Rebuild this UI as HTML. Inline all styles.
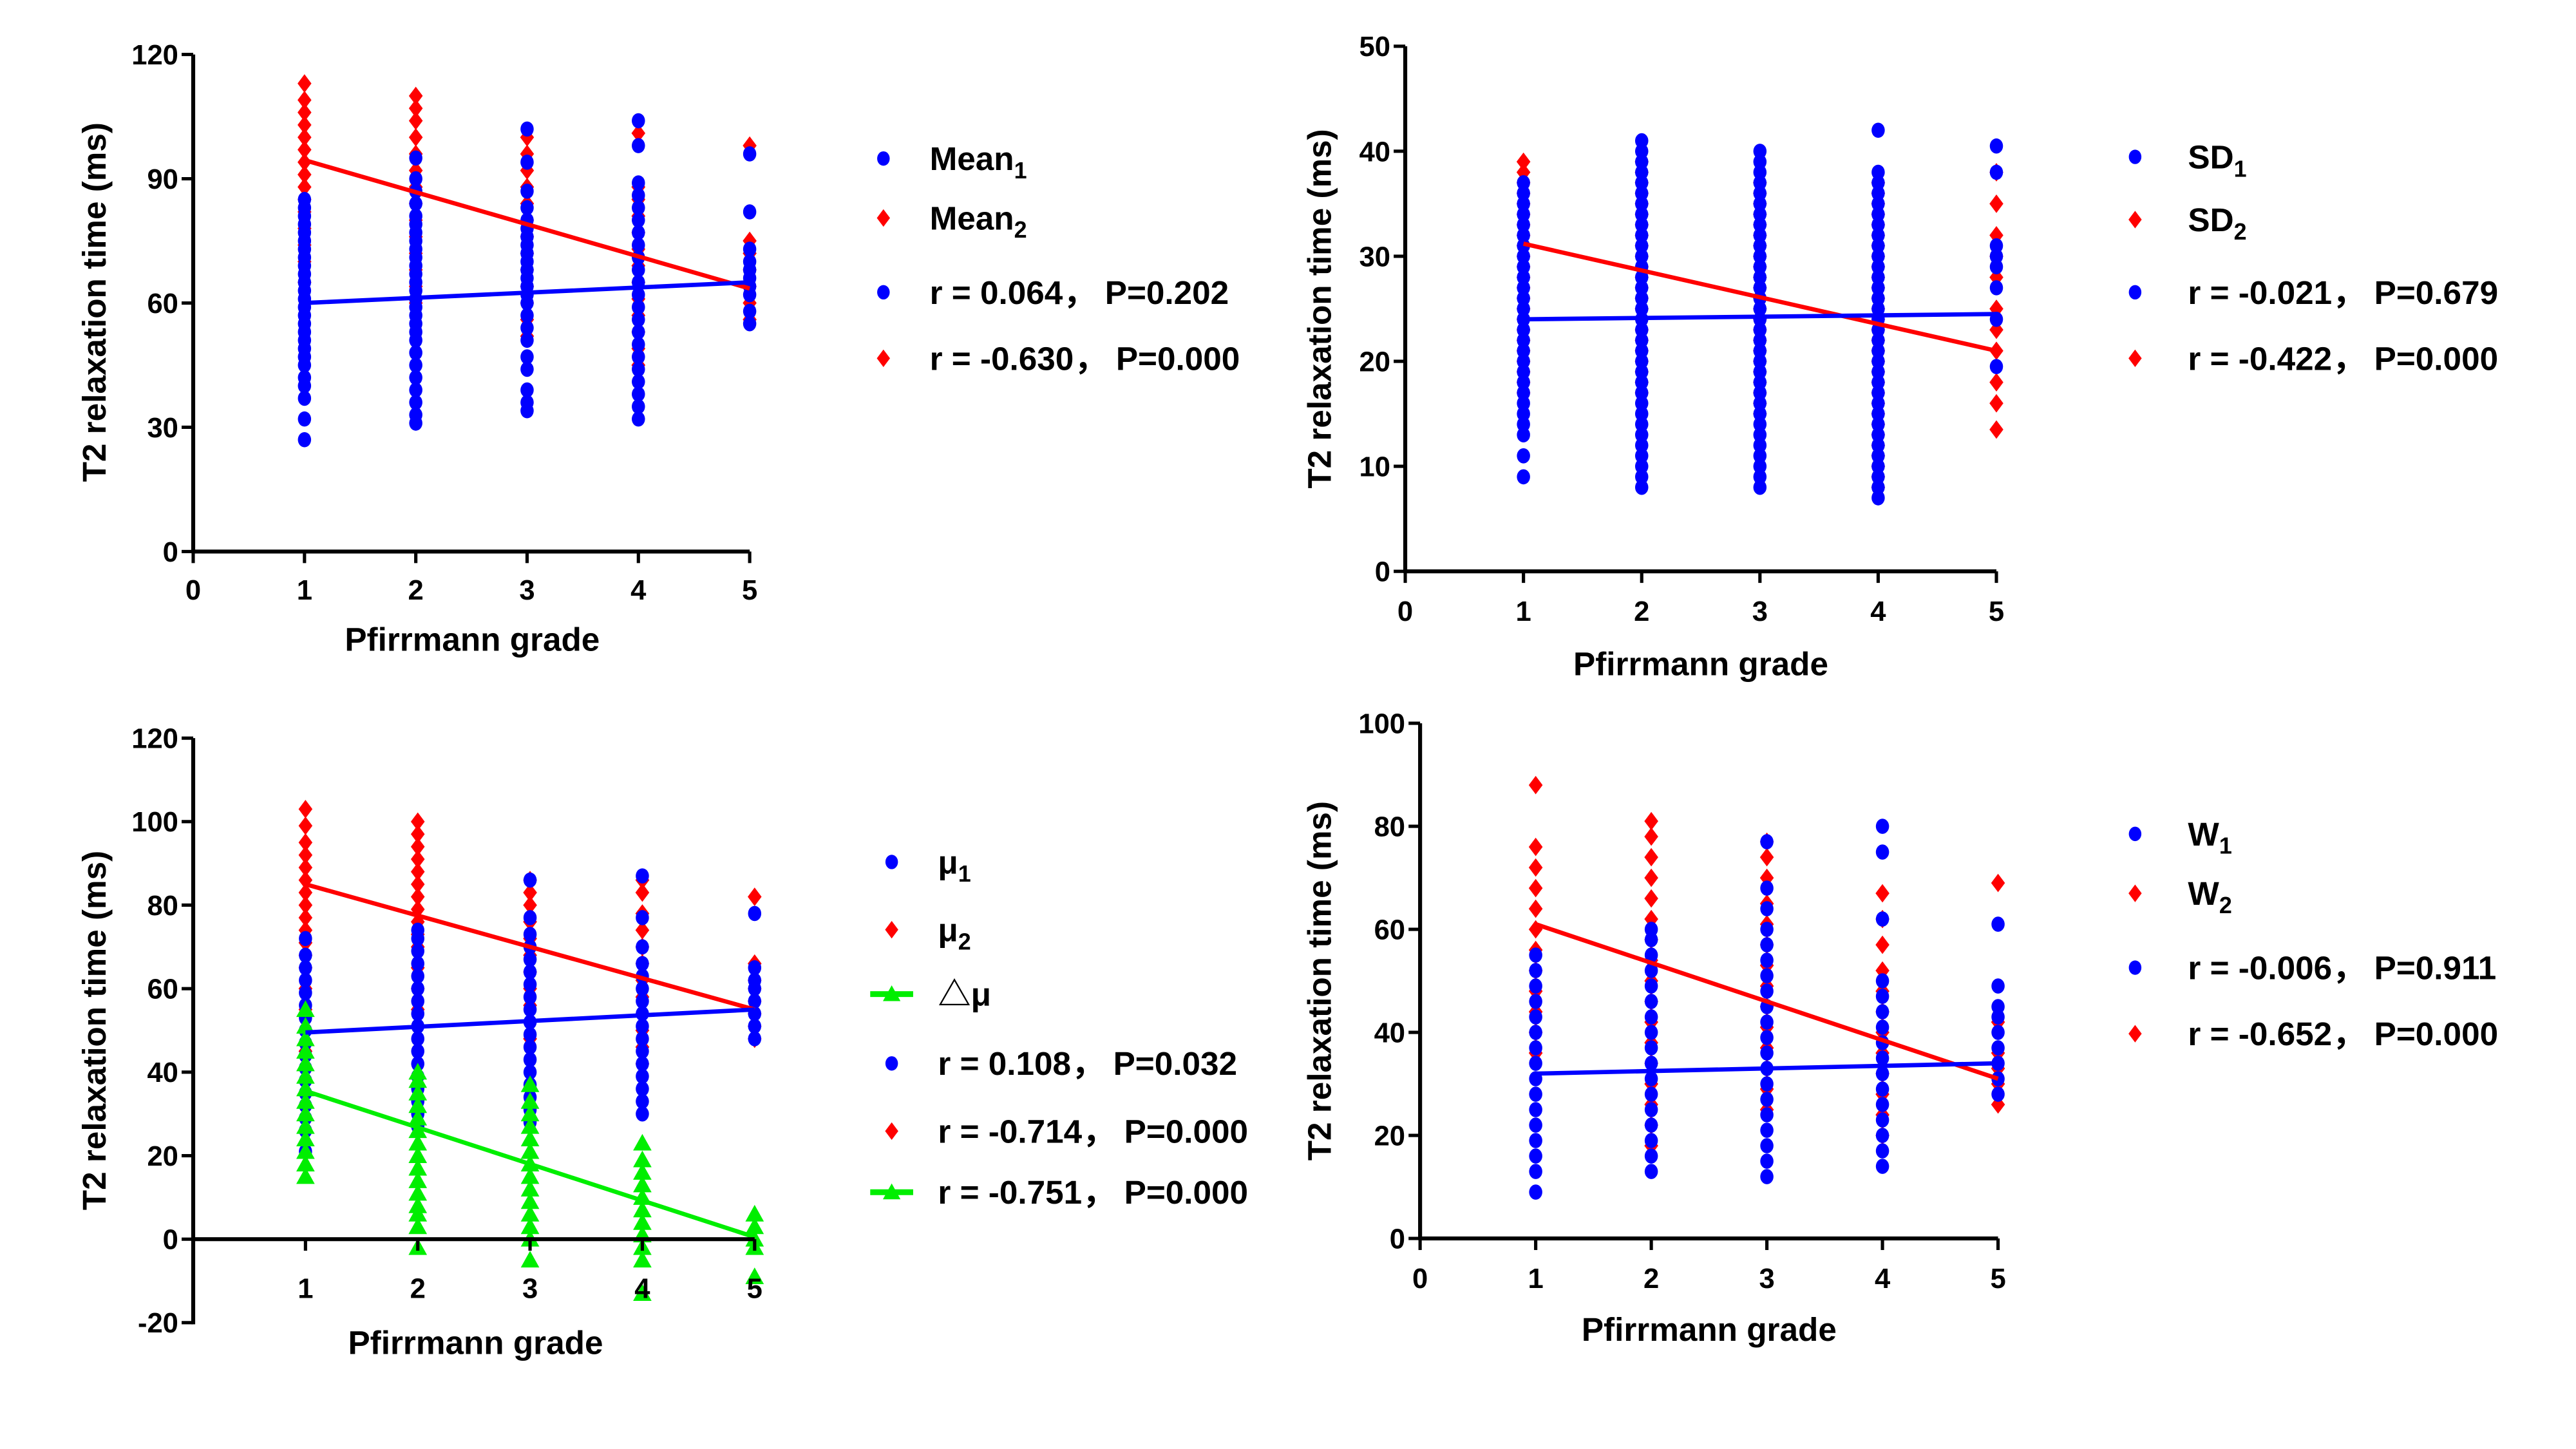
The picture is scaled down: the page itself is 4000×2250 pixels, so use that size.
<!DOCTYPE html>
<html><head><meta charset="utf-8"><style>
html,body{margin:0;padding:0;background:#fff}
svg{display:block}
text{font-family:"Liberation Sans","Noto Sans CJK SC",sans-serif;font-weight:bold;fill:#000}
</style></head><body>
<svg id="fig" width="4000" height="2250" viewBox="0 0 1560 877.5" xmlns="http://www.w3.org/2000/svg"></svg>
<script>
// ---- Data (values per Pfirrmann grade 1..5) ----
const grades=[1,2,3,4,5];
// Panel A: Mean
const mean1=[[27,32,37,40,42,45,47,49,51,53,55,57,59,61,63,65,67,69,71,73,75,77,79,81,83,85],
[31,33,36,39,42,45,48,51,53,55,57,59,61,63,65,67,69,71,73,75,77,79,81,84,87,90,95],
[34,36,39,44,47,51,54,57,60,62,64,66,68,70,72,74,76,78,80,83,87,94,102],
[32,35,38,41,44,47,50,53,56,59,62,65,68,71,74,77,80,83,86,89,98,104],
[55,58,62,64,66,68,70,73,82,96]];
const mean2=[[65,70,74,78,82,85,88,91,94,97,100,103,106,109,113],
[60,64,68,72,76,80,84,88,92,96,100,104,107,110],
[52,56,60,64,68,72,76,80,84,88,92,96,100],
[45,49,53,57,61,65,69,73,77,81,85,88,101],
[56,60,64,68,72,75,98]];
const fitMean1=[60,65], fitMean2=[94.5,63.5];
// Panel B: SD
const sd1=[[9,11,13,14,15,16,17,18,19,20,21,22,23,24,25,26,27,28,29,30,31,32,33,34,35,36,37],
[8,9,10,11,12,13,14,15,16,17,18,19,20,21,22,23,24,25,26,27,28,29,30,31,32,33,34,35,36,37,38,39,40,41],
[8,9,10,11,12,13,14,15,16,17,18,19,20,21,22,23,24,25,26,27,28,29,30,31,32,33,34,35,36,37,38,39,40],
[7,8,9,10,11,12,13,14,15,16,17,18,19,20,21,22,23,24,25,26,27,28,29,30,31,32,33,34,35,36,37,38,42],
[19.5,24,27,29,30,31,38,40.5]];
const sd2=[[17,18,19,20,21,22,23,24,25,26,27,28,29,30,31,32,33,34,35,36,37,38,39],
[17,18,19,20,21,22,23,24,25,26,27,28,29,30,31,32,33,34,35,36,37,38,39],
[15,16,17,18,19,20,21,22,23,24,25,26,27,28,29,30,31,32,33,34,35,36,37],
[8,9,10,11,12,13,14,15,16,17,18,19,20,21,22,23,24,25,26,27,28,29,30,31,32,33,34,35,36,37],
[13.5,16,18,21,23,25,28,30,32,35,38]];
const fitSd1=[24,24.5], fitSd2=[31.2,21];
// Panel C: mu
const mu1=[[21,26,29,32,35,38,41,44,47,50,53,56,59,62,65,68,72],
[27,30,33,36,39,42,45,48,51,54,57,60,63,66,69,72,74],
[28,31,34,37,40,43,46,49,52,55,58,61,64,67,70,73,77,86],
[30,33,36,39,42,45,48,51,54,57,60,63,66,70,77,87],
[48,51,54,57,60,62,65,78]];
const mu2=[[45,50,55,60,65,68,71,74,77,80,83,86,89,92,95,99,103],
[55,60,65,70,73,76,79,82,85,88,91,94,97,100],
[48,52,56,60,64,68,72,76,80,83,86],
[42,46,50,54,58,62,66,70,74,78,83,86],
[48,51,54,57,60,62,66,82]];
const dmu=[[15,18,21,24,27,30,33,36,39,42,45,48,51,55],
[-2,3,6,8,11,14,17,20,23,26,29,32,35,38,40],
[-5,0,3,6,9,12,15,18,21,24,27,30,33,37],
[-13,-5,-2,1,4,7,10,13,16,19,23],
[-9,-2,0,3,6]];
const fitMu1=[49.5,55], fitMu2=[85,55], fitDmu=[35.5,0.5];
// Panel D: W
const w1=[[9,13,16,19,22,25,28,31,34,37,40,43,46,49,52,55],
[13,16,19,22,25,28,31,34,37,40,43,46,49,52,55,58,60],
[12,15,18,21,24,27,30,33,36,39,42,45,48,51,54,57,60,64,68,77],
[14,17,20,23,26,29,32,35,38,41,44,47,50,62,75,80],
[28,31,34,37,40,43,45,49,61]];
const w2=[[36,40,44,48,52,56,60,64,68,72,76,88],
[18,22,26,30,34,38,42,46,50,54,58,62,66,70,74,78,81],
[25,29,33,37,41,45,49,53,57,61,65,70,74,77],
[20,24,28,32,36,40,44,48,52,57,62,67],
[26,30,33,36,42,69]];
const fitW1=[32,34], fitW2=[61,31];
const ticksA=[0,30,60,90,120], ticksB=[0,10,20,30,40,50], ticksC=[-20,0,20,40,60,80,100,120], ticksD=[0,20,40,60,80,100];

const NS="http://www.w3.org/2000/svg";
const svg=document.getElementById('fig');
function mk(tag,attrs,parent){const e=document.createElementNS(NS,tag);for(const k in attrs)e.setAttribute(k,attrs[k]);(parent||svg).appendChild(e);return e;}
const BLUE="#0000ff",RED="#ff0000",GREEN="#00ee00";
function marker(g,shape,cx,cy,col,s){
  let e;
  if(shape==='circle'){e=mk('ellipse',{cx:cx,cy:cy,rx:4*s,ry:4.6*s,fill:col},g);}
  else if(shape==='diamond'){const r=5.6*s,w=4.2*s;e=mk('polygon',{points:`${cx},${cy-r} ${cx+w},${cy} ${cx},${cy+r} ${cx-w},${cy}`,fill:col},g);}
  else {const r=5.6*s;e=mk('polygon',{points:`${cx},${cy-r} ${cx+r},${cy+r*0.8} ${cx-r},${cy+r*0.8}`,fill:col},g);}
  return e;
}
function panel(p){
  const g=mk('g',{});
  
  
  const X=v=>p.x0+(v)*(p.x5-p.x0)/5;
  const Y=v=>p.yb+(v-p.ymin)*(p.yt-p.yb)/(p.ymax-p.ymin);
  p.series.forEach(s=>{
    s.data.forEach((vals,i)=>{vals.forEach(v=>{
      const m=marker(g,s.shape,X(grades[i]),Y(v),s.col,1);
      
      
    });});
  });
  p.series.forEach(s=>{
    const l=mk('line',{x1:X(1),y1:Y(s.fit[0]),x2:X(5),y2:Y(s.fit[1]),stroke:s.col,'stroke-width':2.6},g);
    
    
  });
  const ya=mk('line',{x1:p.ax,y1:Y(p.ymax),x2:p.ax,y2:Y(p.ymin)+1,stroke:'#000','stroke-width':2.4},g);
  
  
  const xaY=Y(p.xaxisAt);
  const xa=mk('line',{x1:p.ax-1,y1:xaY,x2:X(5),y2:xaY,stroke:'#000','stroke-width':2.4},g);
  
  
  p.yticks.forEach(t=>{
    mk('line',{x1:p.ax-7,y1:Y(t),x2:p.ax,y2:Y(t),stroke:'#000','stroke-width':2},g);
    const tx=mk('text',{x:p.ax-9,y:Y(t)+6,'text-anchor':'end','font-size':17},g);tx.textContent=t;
    
    
  });
  p.xticks.forEach(t=>{
    mk('line',{x1:X(t),y1:xaY,x2:X(t),y2:xaY+7,stroke:'#000','stroke-width':2},g);
    const tx=mk('text',{x:X(t),y:p.xlabY,'text-anchor':'middle','font-size':17},g);tx.textContent=t;
    
    
  });
  const xt=mk('text',{x:p.xtX,y:p.xtY,'text-anchor':'middle','font-size':20},g);xt.textContent='Pfirrmann grade';
  
  
  const yt=mk('text',{x:0,y:0,'text-anchor':'middle','font-size':20,transform:`translate(${p.ytX},${p.ytY}) rotate(-90)`},g);yt.textContent='T2 relaxation time (ms)';
  
  
  p.legend.forEach(L=>{
    const lg=mk('g',{},g);
    
    
    if(L.line) mk('line',{x1:p.lx-13,y1:L.y,x2:p.lx+13,y2:L.y,stroke:L.col,'stroke-width':3.5},lg);
    marker(lg,L.shape,p.lx,L.y,L.col,0.95);
    const t=mk('text',{x:p.tx,y:L.y+7,'font-size':20},lg);
    t.appendChild(document.createTextNode(L.text));
    if(L.sub){const s=mk('tspan',{'font-size':14,dy:5},t);s.textContent=L.sub;}
  });
}
const R1='，';
panel({name:'panel-mean',x0:117,x5:454,ax:117,yt:33,yb:334,ymin:0,ymax:120,xaxisAt:0,yticks:ticksA,xticks:[0,1,2,3,4,5],xlabY:363,xtX:286,xtY:394,ytX:64,ytY:183,
 series:[{key:'mean2',data:mean2,fit:fitMean2,col:RED,shape:'diamond'},{key:'mean1',data:mean1,fit:fitMean1,col:BLUE,shape:'circle'}],
 lx:535,tx:563,legend:[{y:96,col:BLUE,shape:'circle',text:'Mean',sub:'1'},{y:132,col:RED,shape:'diamond',text:'Mean',sub:'2'},
 {y:177,col:BLUE,shape:'circle',text:'r = 0.064'+R1+' P=0.202'},{y:217,col:RED,shape:'diamond',text:'r = -0.630'+R1+' P=0.000'}]});
panel({name:'panel-sd',x0:851,x5:1209,ax:851,yt:28,yb:346,ymin:0,ymax:50,xaxisAt:0,yticks:ticksB,xticks:[0,1,2,3,4,5],xlabY:376,xtX:1030,xtY:409,ytX:806,ytY:187,
 series:[{key:'sd2',data:sd2,fit:fitSd2,col:RED,shape:'diamond'},{key:'sd1',data:sd1,fit:fitSd1,col:BLUE,shape:'circle'}],
 lx:1293,tx:1325,legend:[{y:95,col:BLUE,shape:'circle',text:'SD',sub:'1'},{y:133,col:RED,shape:'diamond',text:'SD',sub:'2'},
 {y:177,col:BLUE,shape:'circle',text:'r = -0.021'+R1+' P=0.679'},{y:217,col:RED,shape:'diamond',text:'r = -0.422'+R1+' P=0.000'}]});
panel({name:'panel-mu',x0:117,x5:457,ax:117,yt:447,yb:801,ymin:-20,ymax:120,xaxisAt:0,yticks:ticksC,xticks:[1,2,3,4,5],xlabY:786,xtX:288,xtY:820,ytX:64,ytY:624,
 series:[{key:'mu2',data:mu2,fit:fitMu2,col:RED,shape:'diamond'},{key:'mu1',data:mu1,fit:fitMu1,col:BLUE,shape:'circle'},{key:'dmu',data:dmu,fit:fitDmu,col:GREEN,shape:'tri'}],
 lx:540,tx:568,legend:[{y:522,col:BLUE,shape:'circle',text:'μ',sub:'1'},{y:563,col:RED,shape:'diamond',text:'μ',sub:'2'},
 {y:602,col:GREEN,shape:'tri',line:true,text:'△μ'},{y:644,col:BLUE,shape:'circle',text:'r = 0.108'+R1+' P=0.032'},
 {y:685,col:RED,shape:'diamond',text:'r = -0.714'+R1+' P=0.000'},{y:722,col:GREEN,shape:'tri',line:true,text:'r = -0.751'+R1+' P=0.000'}]});
panel({name:'panel-w',x0:860,x5:1210,ax:860,yt:438,yb:750,ymin:0,ymax:100,xaxisAt:0,yticks:ticksD,xticks:[0,1,2,3,4,5],xlabY:780,xtX:1035,xtY:812,ytX:806,ytY:594,
 series:[{key:'w2',data:w2,fit:fitW2,col:RED,shape:'diamond'},{key:'w1',data:w1,fit:fitW1,col:BLUE,shape:'circle'}],
 lx:1293,tx:1325,legend:[{y:505,col:BLUE,shape:'circle',text:'W',sub:'1'},{y:541,col:RED,shape:'diamond',text:'W',sub:'2'},
 {y:586,col:BLUE,shape:'circle',text:'r = -0.006'+R1+' P=0.911'},{y:626,col:RED,shape:'diamond',text:'r = -0.652'+R1+' P=0.000'}]});
</script>
</body></html>
